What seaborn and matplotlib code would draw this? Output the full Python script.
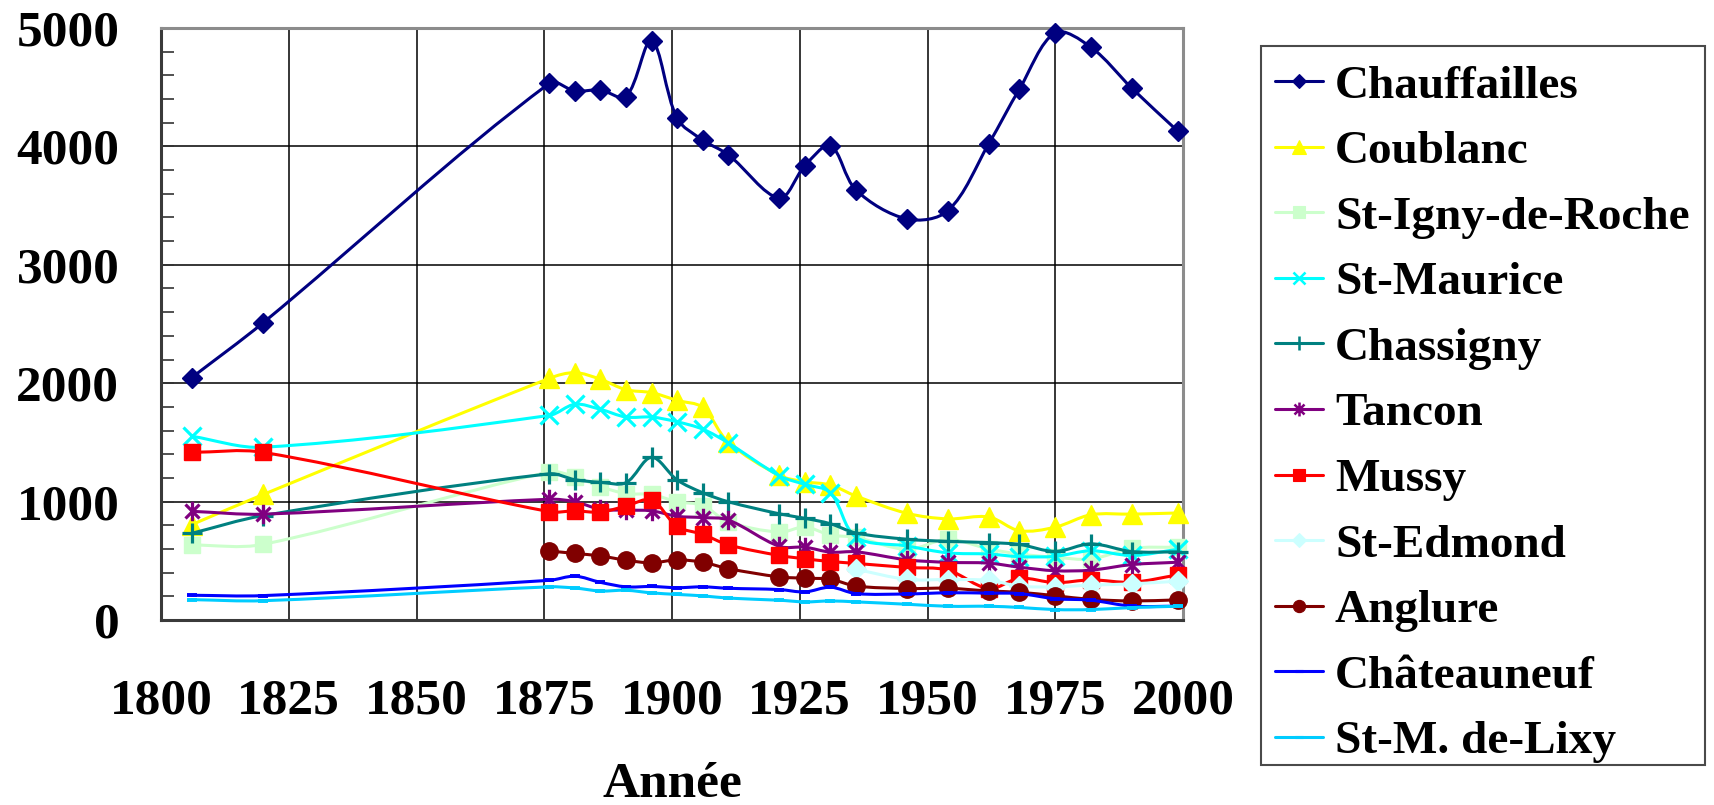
import numpy as np
import pandas as pd
import matplotlib
matplotlib.use("Agg")
import matplotlib.pyplot as plt
from matplotlib.path import Path
from matplotlib.patches import PathPatch, Rectangle
from matplotlib.lines import Line2D
from matplotlib.ticker import MultipleLocator
import seaborn as sns

nan = np.nan

# Census years
years = [1806, 1820, 1876, 1881, 1886, 1891, 1896, 1901, 1906, 1911, 1921,
         1926, 1931, 1936, 1946, 1954, 1962, 1968, 1975, 1982, 1990, 1999]

# Population per commune
chauffailles = [2047, 2511, 4533, 4468, 4476, 4420, 4893, 4237, 4054, 3930, 3564,
                3837, 4006, 3632, 3387, 3457, 4023, 4485, 4960, 4837, 4491, 4128]
coublanc = [805, 1060, 2041, 2089, 2033, 1945, 1920, 1855, 1795, 1503, 1221,
            1168, 1140, 1047, 901, 854, 870, 754, 784, 889, 894, 904]
st_igny = [633, 639, 1250, 1210, 1126, 1068, 1060, 999, 967, 830, 742,
           785, 718, 698, 597, 681, 600, 557, 530, 515, 605, 615]
st_maurice = [1552, 1459, 1728, 1822, 1779, 1714, 1714, 1674, 1612, 1496, 1218,
              1145, 1075, 700, 625, 567, 557, 535, 538, 585, 545, 597]
chassigny = [732, 882, 1235, 1185, 1163, 1160, 1374, 1183, 1075, 999, 897,
             859, 813, 735, 682, 664, 654, 638, 579, 643, 578, 575]
tancon = [918, 894, 1020, 999, 935, 928, 922, 876, 865, 845, 622,
          615, 573, 576, 508, 487, 480, 446, 416, 421, 468, 488]
mussy = [1416, 1416, 915, 921, 912, 962, 1013, 790, 724, 635, 545,
         517, 494, 478, 444, 421, 265, 352, 315, 339, 319, 381]
st_edmond = [nan, nan, nan, nan, nan, nan, nan, nan, nan, nan, nan,
             nan, nan, 428, 343, 342, 335, 286, 280, 295, 305, 328]
anglure = [nan, nan, 583, 562, 541, 505, 483, 508, 488, 434, 364,
           353, 344, 287, 266, 268, 245, 234, 205, 174, 161, 170]
chateauneuf = [209, 206, 335, 370, 318, 280, 283, 273, 280, 268, 257,
               237, 277, 223, 220, 230, 227, 223, 180, 167, 117, 117]
st_m_lixy = [172, 163, 280, 270, 245, 251, 229, 216, 204, 185, 167,
             153, 161, 153, 133, 116, 116, 106, 88, 88, 105, 116]

communes = ["Chauffailles", "Coublanc", "St-Igny-de-Roche", "St-Maurice",
            "Chassigny", "Tancon", "Mussy", "St-Edmond", "Anglure",
            "Châteauneuf", "St-M. de-Lixy"]
values = [chauffailles, coublanc, st_igny, st_maurice, chassigny, tancon,
          mussy, st_edmond, anglure, chateauneuf, st_m_lixy]

x_ticks = [1800, 1825, 1850, 1875, 1900, 1925, 1950, 1975, 2000]
y_ticks = [0, 1000, 2000, 3000, 4000, 5000]

# Asterisk marker: vertical bar plus a cross
asterisk = Path([(0, -1), (0, 1), (-0.72, -0.72), (0.72, 0.72), (-0.72, 0.72), (0.72, -0.72)],
                [Path.MOVETO, Path.LINETO] * 3)

# ms: marker size on the curves, lms: marker size in the legend
styles = [
    dict(color="#000080", marker="D", ms=10.3, lms=7.2, mew=1.0, filled=True),
    dict(color="#FFFF00", marker="^", ms=14.0, lms=10.0, mew=1.0, filled=True),
    dict(color="#CCFFCC", marker="s", ms=12.0, lms=8.4, mew=1.0, filled=True),
    dict(color="#00FFFF", marker="x", ms=12.5, lms=8.8, mew=2.3, filled=False),
    dict(color="#008080", marker="+", ms=14.0, lms=10.0, mew=2.3, filled=False),
    dict(color="#800080", marker=asterisk, ms=14.0, lms=10.0, mew=2.3, filled=False),
    dict(color="#FF0000", marker="s", ms=12.0, lms=8.4, mew=1.0, filled=True),
    dict(color="#CCFFFF", marker="D", ms=10.3, lms=7.2, mew=1.0, filled=True),
    dict(color="#800000", marker="o", ms=12.5, lms=8.8, mew=1.0, filled=True),
    dict(color="#0000FF", marker="_", ms=7.5, lms=5.6, mew=2.8, filled=False),
    dict(color="#00CCFF", marker="_", ms=7.5, lms=5.6, mew=2.8, filled=False),
]

sns.set_theme(style="white")
plt.rcParams["font.family"] = ["Liberation Serif", "DejaVu Serif"]
plt.rcParams["font.weight"] = "bold"
plt.rcParams["text.color"] = "black"
plt.rcParams["axes.labelcolor"] = "black"
plt.rcParams["xtick.color"] = "black"
plt.rcParams["ytick.color"] = "black"

W, H = 1714, 805
fig = plt.figure(figsize=(W / 100, H / 100), dpi=100)
ax = fig.add_axes([161 / W, 1 - 620 / H, (1183 - 161) / W, (620 - 28) / H])

ax.set_xlim(1800, 2000)
ax.set_ylim(0, 5000)

# approximate pixels per data unit, so the smoothing follows screen geometry
sx = (1183 - 161) / 200.0
sy = (620 - 28) / 5000.0


def smooth_path(xs, ys):
    P = np.column_stack([np.asarray(xs, float) * sx, np.asarray(ys, float) * sy])
    n = len(P)
    d = np.linalg.norm(np.diff(P, axis=0), axis=1)
    T = np.zeros_like(P)
    for i in range(n):
        if i == 0:
            T[i] = (P[1] - P[0]) / d[0]
        elif i == n - 1:
            T[i] = (P[-1] - P[-2]) / d[-1]
        else:
            T[i] = (P[i + 1] - P[i - 1]) / (d[i - 1] + d[i])
    verts = [P[0]]
    codes = [Path.MOVETO]
    for i in range(n - 1):
        c1 = P[i] + T[i] * d[i] / 3.0
        c2 = P[i + 1] - T[i + 1] * d[i] / 3.0
        verts += [c1, c2, P[i + 1]]
        codes += [Path.CURVE4] * 3
    verts = np.array(verts) / np.array([sx, sy])
    return Path(verts, codes)


LW = 2.2
handles = []
for k, (name, vals, st) in enumerate(zip(communes, values, styles)):
    df = pd.DataFrame({"year": years, "pop": vals}).dropna()
    z = 3 + k * 0.1
    patch = PathPatch(smooth_path(df["year"].values, df["pop"].values),
                      facecolor="none", edgecolor=st["color"], lw=LW,
                      capstyle="round", joinstyle="round", zorder=z)
    ax.add_patch(patch)
    mfc = st["color"] if st["filled"] else "none"
    sns.lineplot(data=df, x="year", y="pop", ax=ax, linestyle="none",
                 marker=st["marker"], markersize=st["ms"], markeredgewidth=st["mew"],
                 markerfacecolor=mfc, markeredgecolor=st["color"], color=st["color"],
                 zorder=z + 0.05, clip_on=False, legend=False)
    handles.append(Line2D([], [], color=st["color"], lw=LW, marker=st["marker"],
                          markersize=st["lms"], markeredgewidth=st["mew"] * 0.8,
                          markerfacecolor=mfc, markeredgecolor=st["color"], label=name))

ax.set_xticks(x_ticks)
ax.set_yticks(y_ticks)
ax.yaxis.set_minor_locator(MultipleLocator(200))
ax.set_xticklabels([str(v) for v in x_ticks])
ax.set_yticklabels([str(v) for v in y_ticks])

ax.grid(True, which="major", color="black", lw=1.1)
ax.set_axisbelow(True)

ax.tick_params(axis="y", which="both", direction="in", length=9.4, width=1.2,
               color="#333333", labelcolor="black", labelsize=37, pad=30, left=True)
ax.tick_params(axis="x", which="both", length=0, labelsize=37, pad=42,
               labelcolor="black")
for lab in ax.get_xticklabels() + ax.get_yticklabels():
    lab.set_fontweight("bold")

for side in ("left", "bottom"):
    ax.spines[side].set_color("#3a3a3a")
    ax.spines[side].set_linewidth(2.2)
for side in ("top", "right"):
    ax.spines[side].set_color("#8c8c8c")
    ax.spines[side].set_linewidth(2.2)

ax.set_xlabel("Année", fontsize=37, fontweight="bold", va="center", color="black")
ax.xaxis.set_label_coords(0.5, (620 - 785) / 592)
ax.set_ylabel("")

# Legend entries, with a plain box drawn around them
leg = fig.legend(handles=handles, loc="upper left",
                 bbox_to_anchor=(1275 / W, 1 - 64.5 / H), bbox_transform=fig.transFigure,
                 borderaxespad=0, prop={"weight": "bold", "size": 34},
                 handlelength=1.02, handletextpad=0.25, borderpad=0.0,
                 labelspacing=0.477, frameon=False)
for t in leg.get_texts():
    t.set_color("black")
fig.patches.append(Rectangle((1261 / W, 1 - 765 / H), (1705 - 1261) / W, (765 - 46) / H,
                             transform=fig.transFigure, facecolor="none",
                             edgecolor="#4a4a4a", lw=1.5, zorder=0))

fig.savefig("out.png", dpi=100)
